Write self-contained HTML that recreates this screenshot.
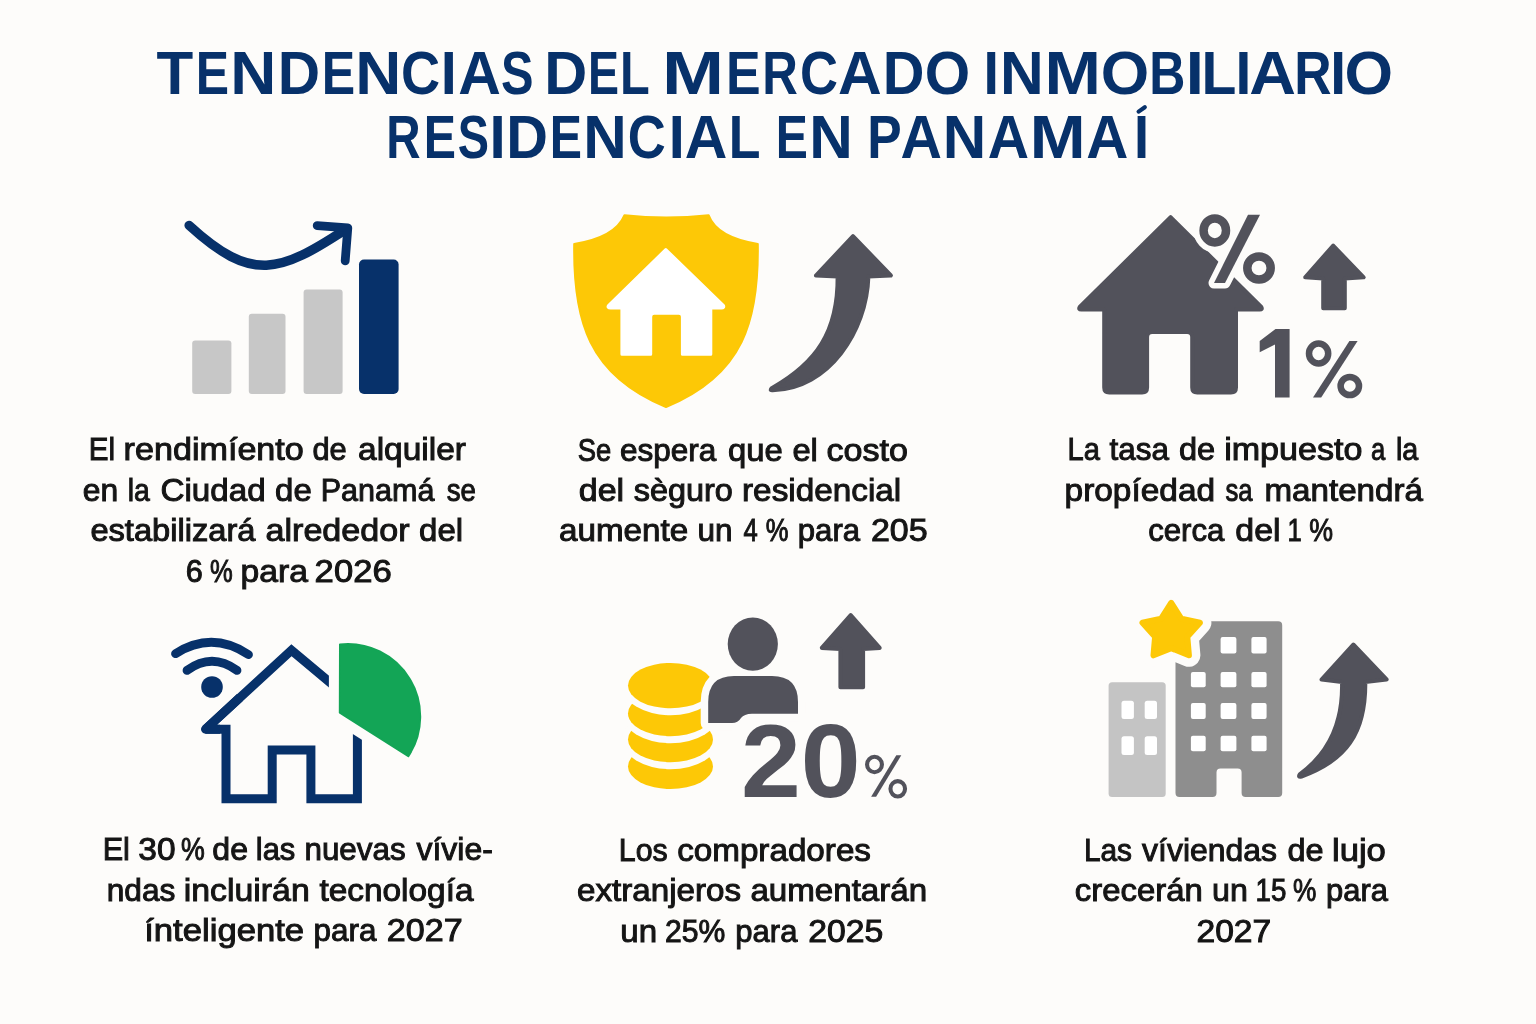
<!DOCTYPE html>
<html><head><meta charset="utf-8"><style>
html,body{margin:0;padding:0;background:#fdfcfa;}
svg{display:block;}
text{font-family:"Liberation Sans",sans-serif;}
</style></head><body>
<svg width="1536" height="1024" viewBox="0 0 1536 1024">
<rect width="1536" height="1024" fill="#fdfcfa"/>
<g opacity="0.999"><text transform="translate(156.62,93.8) scale(0.9936,1)" font-size="60.5" font-weight="bold" fill="#07316a">T</text>
<text transform="translate(195.66,93.8) scale(0.8249,1)" font-size="60.5" font-weight="bold" fill="#07316a">E</text>
<text transform="translate(230.13,93.8) scale(1.0543,1)" font-size="60.5" font-weight="bold" fill="#07316a">N</text>
<text transform="translate(277.77,93.8) scale(0.9703,1)" font-size="60.5" font-weight="bold" fill="#07316a">D</text>
<text transform="translate(321.65,93.8) scale(0.8279,1)" font-size="60.5" font-weight="bold" fill="#07316a">E</text>
<text transform="translate(355.13,93.8) scale(1.0543,1)" font-size="60.5" font-weight="bold" fill="#07316a">N</text>
<text transform="translate(400.88,93.8) scale(0.8949,1)" font-size="60.5" font-weight="bold" fill="#07316a">C</text>
<text transform="translate(440.75,93.8) scale(0.9524,1)" font-size="60.5" font-weight="bold" fill="#07316a">I</text>
<text transform="translate(458.33,93.8) scale(0.9756,1)" font-size="60.5" font-weight="bold" fill="#07316a">A</text>
<text transform="translate(501.10,93.8) scale(0.8056,1)" font-size="60.5" font-weight="bold" fill="#07316a">S</text>
<text transform="translate(544.32,93.8) scale(0.9837,1)" font-size="60.5" font-weight="bold" fill="#07316a">D</text>
<text transform="translate(587.89,93.8) scale(0.7689,1)" font-size="60.5" font-weight="bold" fill="#07316a">E</text>
<text transform="translate(620.04,93.8) scale(0.8052,1)" font-size="60.5" font-weight="bold" fill="#07316a">L</text>
<text transform="translate(662.12,93.8) scale(1.2316,1)" font-size="60.5" font-weight="bold" fill="#07316a">M</text>
<text transform="translate(726.12,93.8) scale(0.8588,1)" font-size="60.5" font-weight="bold" fill="#07316a">E</text>
<text transform="translate(762.30,93.8) scale(0.8150,1)" font-size="60.5" font-weight="bold" fill="#07316a">R</text>
<text transform="translate(799.94,93.8) scale(0.8697,1)" font-size="60.5" font-weight="bold" fill="#07316a">C</text>
<text transform="translate(838.09,93.8) scale(1.0003,1)" font-size="60.5" font-weight="bold" fill="#07316a">A</text>
<text transform="translate(882.64,93.8) scale(0.9541,1)" font-size="60.5" font-weight="bold" fill="#07316a">D</text>
<text transform="translate(924.70,93.8) scale(0.9658,1)" font-size="60.5" font-weight="bold" fill="#07316a">O</text>
<text transform="translate(983.48,93.8) scale(0.9180,1)" font-size="60.5" font-weight="bold" fill="#07316a">I</text>
<text transform="translate(1000.05,93.8) scale(1.0009,1)" font-size="60.5" font-weight="bold" fill="#07316a">N</text>
<text transform="translate(1044.47,93.8) scale(1.1205,1)" font-size="60.5" font-weight="bold" fill="#07316a">M</text>
<text transform="translate(1100.74,93.8) scale(1.0300,1)" font-size="60.5" font-weight="bold" fill="#07316a">O</text>
<text transform="translate(1149.15,93.8) scale(0.8266,1)" font-size="60.5" font-weight="bold" fill="#07316a">B</text>
<text transform="translate(1185.63,93.8) scale(1.0786,1)" font-size="60.5" font-weight="bold" fill="#07316a">I</text>
<text transform="translate(1201.38,93.8) scale(0.9437,1)" font-size="60.5" font-weight="bold" fill="#07316a">L</text>
<text transform="translate(1235.39,93.8) scale(0.9409,1)" font-size="60.5" font-weight="bold" fill="#07316a">I</text>
<text transform="translate(1249.29,93.8) scale(1.0692,1)" font-size="60.5" font-weight="bold" fill="#07316a">A</text>
<text transform="translate(1294.34,93.8) scale(0.8541,1)" font-size="60.5" font-weight="bold" fill="#07316a">R</text>
<text transform="translate(1330.29,93.8) scale(0.9409,1)" font-size="60.5" font-weight="bold" fill="#07316a">I</text>
<text transform="translate(1344.44,93.8) scale(1.0324,1)" font-size="60.5" font-weight="bold" fill="#07316a">O</text>
<text transform="translate(386.22,158.2) scale(0.7864,1)" font-size="60.5" font-weight="bold" fill="#07316a">R</text>
<text transform="translate(423.67,158.2) scale(0.7984,1)" font-size="60.5" font-weight="bold" fill="#07316a">E</text>
<text transform="translate(457.85,158.2) scale(0.7752,1)" font-size="60.5" font-weight="bold" fill="#07316a">S</text>
<text transform="translate(489.60,158.2) scale(0.9639,1)" font-size="60.5" font-weight="bold" fill="#07316a">I</text>
<text transform="translate(506.34,158.2) scale(0.9541,1)" font-size="60.5" font-weight="bold" fill="#07316a">D</text>
<text transform="translate(549.67,158.2) scale(0.7984,1)" font-size="60.5" font-weight="bold" fill="#07316a">E</text>
<text transform="translate(583.27,158.2) scale(0.9953,1)" font-size="60.5" font-weight="bold" fill="#07316a">N</text>
<text transform="translate(627.84,158.2) scale(0.8697,1)" font-size="60.5" font-weight="bold" fill="#07316a">C</text>
<text transform="translate(668.85,158.2) scale(0.9524,1)" font-size="60.5" font-weight="bold" fill="#07316a">I</text>
<text transform="translate(684.78,158.2) scale(0.9744,1)" font-size="60.5" font-weight="bold" fill="#07316a">A</text>
<text transform="translate(728.63,158.2) scale(0.8584,1)" font-size="60.5" font-weight="bold" fill="#07316a">L</text>
<text transform="translate(775.78,158.2) scale(0.7955,1)" font-size="60.5" font-weight="bold" fill="#07316a">E</text>
<text transform="translate(809.27,158.2) scale(0.9967,1)" font-size="60.5" font-weight="bold" fill="#07316a">N</text>
<text transform="translate(867.15,158.2) scale(0.8529,1)" font-size="60.5" font-weight="bold" fill="#07316a">P</text>
<text transform="translate(900.47,158.2) scale(0.9485,1)" font-size="60.5" font-weight="bold" fill="#07316a">A</text>
<text transform="translate(942.67,158.2) scale(0.9953,1)" font-size="60.5" font-weight="bold" fill="#07316a">N</text>
<text transform="translate(987.87,158.2) scale(0.9461,1)" font-size="60.5" font-weight="bold" fill="#07316a">A</text>
<text transform="translate(1029.71,158.2) scale(1.1087,1)" font-size="60.5" font-weight="bold" fill="#07316a">M</text>
<text transform="translate(1086.15,158.2) scale(0.9633,1)" font-size="60.5" font-weight="bold" fill="#07316a">A</text>
<path d="M1138.6,111.6 L1144.8,107.2" stroke="#07316a" stroke-width="4.2" stroke-linecap="round"/>
<text transform="translate(1134.08,158.2) scale(0.8950,1)" font-size="60.5" font-weight="bold" fill="#07316a">I</text>
<text transform="translate(88.85,460.00) scale(0.9240,1)" font-size="32" fill="#151515" stroke="#151515" stroke-width="1.0">El</text>
<text transform="translate(123.57,460.00) scale(1.0669,1)" font-size="32" fill="#151515" stroke="#151515" stroke-width="1.0">rendimíento</text>
<text transform="translate(312.44,460.00) scale(0.9647,1)" font-size="32" fill="#151515" stroke="#151515" stroke-width="1.0">de</text>
<text transform="translate(358.05,460.00) scale(1.0461,1)" font-size="32" fill="#151515" stroke="#151515" stroke-width="1.0">alquiler</text>
<text transform="translate(82.81,500.60) scale(0.9939,1)" font-size="32" fill="#151515" stroke="#151515" stroke-width="1.0">en</text>
<text transform="translate(127.72,500.60) scale(0.8875,1)" font-size="32" fill="#151515" stroke="#151515" stroke-width="1.0">la</text>
<text transform="translate(160.46,500.60) scale(1.0384,1)" font-size="32" fill="#151515" stroke="#151515" stroke-width="1.0">Ciudad</text>
<text transform="translate(275.07,500.60) scale(1.0294,1)" font-size="32" fill="#151515" stroke="#151515" stroke-width="1.0">de</text>
<text transform="translate(320.69,500.60) scale(0.9551,1)" font-size="32" fill="#151515" stroke="#151515" stroke-width="1.0">Panamá</text>
<text transform="translate(446.80,500.60) scale(0.8636,1)" font-size="32" fill="#151515" stroke="#151515" stroke-width="1.0">se</text>
<text transform="translate(90.38,541.25) scale(1.0204,1)" font-size="32" fill="#151515" stroke="#151515" stroke-width="1.0">estabilizará</text>
<text transform="translate(265.53,541.25) scale(1.0657,1)" font-size="32" fill="#151515" stroke="#151515" stroke-width="1.0">alrededor</text>
<text transform="translate(419.07,541.25) scale(1.0300,1)" font-size="32" fill="#151515" stroke="#151515" stroke-width="1.0">del</text>
<text transform="translate(185.64,581.60) scale(0.9563,1)" font-size="32" fill="#151515" stroke="#151515" stroke-width="1.0">6</text>
<text transform="translate(210.05,581.60) scale(0.8000,1)" font-size="32" fill="#151515" stroke="#151515" stroke-width="1.0">%</text>
<text transform="translate(240.45,581.60) scale(1.0531,1)" font-size="32" fill="#151515" stroke="#151515" stroke-width="1.0">para</text>
<text transform="translate(314.62,581.60) scale(1.0829,1)" font-size="32" fill="#151515" stroke="#151515" stroke-width="1.0">2026</text>
<text transform="translate(577.64,460.50) scale(0.8568,1)" font-size="32" fill="#151515" stroke="#151515" stroke-width="1.0">Se</text>
<text transform="translate(620.02,460.50) scale(0.9847,1)" font-size="32" fill="#151515" stroke="#151515" stroke-width="1.0">espera</text>
<text transform="translate(728.08,460.50) scale(1.0250,1)" font-size="32" fill="#151515" stroke="#151515" stroke-width="1.0">que</text>
<text transform="translate(792.38,460.50) scale(1.0227,1)" font-size="32" fill="#151515" stroke="#151515" stroke-width="1.0">el</text>
<text transform="translate(826.43,460.50) scale(1.0653,1)" font-size="32" fill="#151515" stroke="#151515" stroke-width="1.0">costo</text>
<text transform="translate(578.74,500.60) scale(1.0625,1)" font-size="32" fill="#151515" stroke="#151515" stroke-width="1.0">del</text>
<text transform="translate(633.70,500.60) scale(1.0134,1)" font-size="32" fill="#151515" stroke="#151515" stroke-width="1.0">sèguro</text>
<text transform="translate(742.02,500.60) scale(1.0409,1)" font-size="32" fill="#151515" stroke="#151515" stroke-width="1.0">residencial</text>
<text transform="translate(559.06,541.25) scale(1.0374,1)" font-size="32" fill="#151515" stroke="#151515" stroke-width="1.0">aumente</text>
<text transform="translate(697.52,541.25) scale(0.9848,1)" font-size="32" fill="#151515" stroke="#151515" stroke-width="1.0">un</text>
<text transform="translate(743.45,541.25) scale(0.8000,1)" font-size="32" fill="#151515" stroke="#151515" stroke-width="1.0">4</text>
<text transform="translate(765.70,541.25) scale(0.8000,1)" font-size="32" fill="#151515" stroke="#151515" stroke-width="1.0">%</text>
<text transform="translate(797.83,541.25) scale(0.9719,1)" font-size="32" fill="#151515" stroke="#151515" stroke-width="1.0">para</text>
<text transform="translate(870.94,541.25) scale(1.0635,1)" font-size="32" fill="#151515" stroke="#151515" stroke-width="1.0">205</text>
<text transform="translate(1067.48,460.00) scale(0.9088,1)" font-size="32" fill="#151515" stroke="#151515" stroke-width="1.0">La</text>
<text transform="translate(1109.50,460.00) scale(0.9836,1)" font-size="32" fill="#151515" stroke="#151515" stroke-width="1.0">tasa</text>
<text transform="translate(1178.98,460.00) scale(1.0176,1)" font-size="32" fill="#151515" stroke="#151515" stroke-width="1.0">de</text>
<text transform="translate(1224.17,460.00) scale(1.0646,1)" font-size="32" fill="#151515" stroke="#151515" stroke-width="1.0">impuesto</text>
<text transform="translate(1370.95,460.00) scale(0.8000,1)" font-size="32" fill="#151515" stroke="#151515" stroke-width="1.0">a</text>
<text transform="translate(1395.91,460.00) scale(0.8958,1)" font-size="32" fill="#151515" stroke="#151515" stroke-width="1.0">la</text>
<text transform="translate(1064.55,500.60) scale(1.0451,1)" font-size="32" fill="#151515" stroke="#151515" stroke-width="1.0">propíedad</text>
<text transform="translate(1225.55,500.60) scale(0.8000,1)" font-size="32" fill="#151515" stroke="#151515" stroke-width="1.0">sa</text>
<text transform="translate(1264.43,500.60) scale(1.0362,1)" font-size="32" fill="#151515" stroke="#151515" stroke-width="1.0">mantendrá</text>
<text transform="translate(1148.13,541.25) scale(0.9744,1)" font-size="32" fill="#151515" stroke="#151515" stroke-width="1.0">cerca</text>
<text transform="translate(1235.34,541.25) scale(1.0600,1)" font-size="32" fill="#151515" stroke="#151515" stroke-width="1.0">del</text>
<text transform="translate(1287.60,541.25) scale(0.8000,1)" font-size="32" fill="#151515" stroke="#151515" stroke-width="1.0">1</text>
<text transform="translate(1309.36,541.25) scale(0.8370,1)" font-size="32" fill="#151515" stroke="#151515" stroke-width="1.0">%</text>
<text transform="translate(102.69,860.30) scale(0.9560,1)" font-size="32" fill="#151515" stroke="#151515" stroke-width="1.0">El</text>
<text transform="translate(138.35,860.30) scale(1.0471,1)" font-size="32" fill="#151515" stroke="#151515" stroke-width="1.0">30</text>
<text transform="translate(180.96,860.30) scale(0.8370,1)" font-size="32" fill="#151515" stroke="#151515" stroke-width="1.0">%</text>
<text transform="translate(212.30,860.30) scale(1.0029,1)" font-size="32" fill="#151515" stroke="#151515" stroke-width="1.0">de</text>
<text transform="translate(255.77,860.30) scale(0.9667,1)" font-size="32" fill="#151515" stroke="#151515" stroke-width="1.0">las</text>
<text transform="translate(304.44,860.30) scale(0.9812,1)" font-size="32" fill="#151515" stroke="#151515" stroke-width="1.0">nuevas</text>
<text transform="translate(416.50,860.30) scale(0.9987,1)" font-size="32" fill="#151515" stroke="#151515" stroke-width="1.0">vívie-</text>
<text transform="translate(106.72,900.70) scale(0.9896,1)" font-size="32" fill="#151515" stroke="#151515" stroke-width="1.0">ndas</text>
<text transform="translate(183.79,900.70) scale(1.0569,1)" font-size="32" fill="#151515" stroke="#151515" stroke-width="1.0">incluirán</text>
<text transform="translate(319.40,900.70) scale(1.0443,1)" font-size="32" fill="#151515" stroke="#151515" stroke-width="1.0">tecnología</text>
<text transform="translate(144.13,941.25) scale(1.0841,1)" font-size="32" fill="#151515" stroke="#151515" stroke-width="1.0">ínteligente</text>
<text transform="translate(313.62,941.25) scale(0.9828,1)" font-size="32" fill="#151515" stroke="#151515" stroke-width="1.0">para</text>
<text transform="translate(386.73,941.25) scale(1.0667,1)" font-size="32" fill="#151515" stroke="#151515" stroke-width="1.0">2027</text>
<text transform="translate(618.81,860.50) scale(0.9469,1)" font-size="32" fill="#151515" stroke="#151515" stroke-width="1.0">Los</text>
<text transform="translate(677.16,860.50) scale(1.0378,1)" font-size="32" fill="#151515" stroke="#151515" stroke-width="1.0">compradores</text>
<text transform="translate(576.96,901.00) scale(1.0369,1)" font-size="32" fill="#151515" stroke="#151515" stroke-width="1.0">extranjeros</text>
<text transform="translate(750.46,901.00) scale(1.0351,1)" font-size="32" fill="#151515" stroke="#151515" stroke-width="1.0">aumentarán</text>
<text transform="translate(620.27,941.50) scale(1.0333,1)" font-size="32" fill="#151515" stroke="#151515" stroke-width="1.0">un</text>
<text transform="translate(664.96,941.50) scale(0.9413,1)" font-size="32" fill="#151515" stroke="#151515" stroke-width="1.0">25%</text>
<text transform="translate(735.33,941.50) scale(0.9703,1)" font-size="32" fill="#151515" stroke="#151515" stroke-width="1.0">para</text>
<text transform="translate(808.24,941.50) scale(1.0557,1)" font-size="32" fill="#151515" stroke="#151515" stroke-width="1.0">2025</text>
<text transform="translate(1083.93,860.50) scale(0.9327,1)" font-size="32" fill="#151515" stroke="#151515" stroke-width="1.0">Las</text>
<text transform="translate(1142.10,860.50) scale(0.9978,1)" font-size="32" fill="#151515" stroke="#151515" stroke-width="1.0">víviendas</text>
<text transform="translate(1287.49,860.50) scale(1.0147,1)" font-size="32" fill="#151515" stroke="#151515" stroke-width="1.0">de</text>
<text transform="translate(1331.93,860.50) scale(1.0830,1)" font-size="32" fill="#151515" stroke="#151515" stroke-width="1.0">lujo</text>
<text transform="translate(1074.87,901.00) scale(1.0270,1)" font-size="32" fill="#151515" stroke="#151515" stroke-width="1.0">crecerán</text>
<text transform="translate(1211.99,901.00) scale(1.0061,1)" font-size="32" fill="#151515" stroke="#151515" stroke-width="1.0">un</text>
<text transform="translate(1255.57,901.00) scale(0.8667,1)" font-size="32" fill="#151515" stroke="#151515" stroke-width="1.0">15</text>
<text transform="translate(1292.93,901.00) scale(0.8204,1)" font-size="32" fill="#151515" stroke="#151515" stroke-width="1.0">%</text>
<text transform="translate(1326.03,901.00) scale(0.9656,1)" font-size="32" fill="#151515" stroke="#151515" stroke-width="1.0">para</text>
<text transform="translate(1196.45,941.50) scale(1.0507,1)" font-size="32" fill="#151515" stroke="#151515" stroke-width="1.0">2027</text>
<!-- ICON 1: bar chart -->
<g fill="#c7c7c7">
<rect x="192.2" y="340.5" width="39.2" height="53.5" rx="3"/>
<rect x="248.8" y="313.8" width="36.7" height="80.2" rx="3"/>
<rect x="303.6" y="289.6" width="39" height="104.4" rx="3"/>
</g>
<rect x="359" y="259.5" width="39.6" height="134.5" rx="5" fill="#07316a"/>
<g fill="none" stroke="#07316a" stroke-linecap="round" stroke-linejoin="round">
<path stroke-width="9.4" d="M189.1,225.4 C252.2,283.2 279.8,272.4 345.5,229.5"/>
<path stroke-width="8.8" d="M317.2,225.6 L347.8,227.8 L345.2,260.8"/>
</g>
<!-- ICON 2: shield -->
<path fill="#fdc806" stroke="#fdc806" stroke-width="2" stroke-linejoin="round" d="M624.5,215.2 Q666,220 708.6,215.2 Q716.8,237.4 757.8,244 C759,320 744,375 666,407 C588,375 573,320 574.2,244 Q615.2,237.4 624.5,215.2 Z"/>
<path fill="#ffffff" stroke="#ffffff" stroke-width="3" stroke-linejoin="round" d="M665.8,249.5 L723.5,305.5 Q724.5,308 721.5,308 L710.8,308 L710.8,354.3 L682.4,354.3 L682.4,316.7 Q682.4,313.2 678.9,313.2 L654.2,313.2 Q650.7,313.2 650.7,316.7 L650.7,354.3 L621.9,354.3 L621.9,308 L610.5,308 Q607,308 608.5,305.5 Z"/>
<path fill="#52525b" stroke="#52525b" stroke-width="4" stroke-linejoin="round" d="M853,236.1 L890.9,275.5 L868.4,276.5 C866.9,331.1 828.6,389.3 772.7,390.2 Q768.8,390.6 772.1,387.9 C816.3,362.9 838.1,331.7 837.6,276.5 L815.9,275.5 Z"/>
<!-- ICON 3: house % -->
<path fill="#52525b" stroke="#52525b" stroke-width="4" stroke-linejoin="round" d="M1170.6,217.2 L1261.3,307 Q1262.8,309.5 1259.8,309.5 L1236,309.5 L1236,387.5 Q1236,392.5 1231,392.5 L1197.2,392.5 Q1192.2,392.5 1192.2,387.5 L1192.2,337 Q1192.2,332 1187.2,332 L1152.1,332 Q1147.1,332 1147.1,337 L1147.1,387.5 Q1147.1,392.5 1142.1,392.5 L1109.2,392.5 Q1104.2,392.5 1104.2,387.5 L1104.2,309.5 L1081.2,309.5 Q1078.2,309.5 1079.7,307 Z"/>
<g fill="none" stroke="#fdfcfa" stroke-width="20">
<ellipse cx="1214.8" cy="230.4" rx="11.2" ry="12"/>
<ellipse cx="1259" cy="268" rx="11.7" ry="11.6"/>
</g>
<path fill="#fdfcfa" stroke="#fdfcfa" stroke-width="11" stroke-linejoin="round" d="M1248,214.8 L1260,214.8 L1225,283 L1214,283 Z"/>
<g fill="none" stroke="#52525b" stroke-width="8.5">
<ellipse cx="1214.8" cy="230.4" rx="11.2" ry="12"/>
<ellipse cx="1259" cy="268" rx="11.7" ry="11.6"/>
</g>
<path fill="#52525b" d="M1248,214.8 L1260,214.8 L1225,283 L1214,283 Z"/>
<path fill="#52525b" stroke="#52525b" stroke-width="4" stroke-linejoin="round" d="M1333.2,245.6 L1363.7,277.3 L1344.8,278.4 L1344.8,308.3 L1323.2,308.3 L1323.2,278.4 L1305.2,277.3 Z"/>
<path fill="#52525b" d="M1275.5,329.1 L1289.6,329.1 L1289.6,397.5 L1275,397.5 L1275,344.5 L1259.7,352.2 L1259.7,341.1 Z"/>
<g fill="none" stroke="#52525b" stroke-width="6.5">
<ellipse cx="1318.6" cy="353.5" rx="9.6" ry="10"/>
<ellipse cx="1349.8" cy="386" rx="9.2" ry="9.1"/>
</g>
<path fill="#52525b" d="M1349.4,341 L1357.6,341 L1321.2,397.5 L1313,397.5 Z"/>
<!-- ICON 4: smart house -->
<g fill="none" stroke="#07316a" stroke-width="8.8" stroke-linecap="round">
<path d="M175.5,653.7 Q211.9,630.5 248.5,654.6"/>
<path d="M187,670.4 Q212,652.2 237,670.4"/>
</g>
<circle cx="212" cy="687" r="10.8" fill="#07316a"/>
<path fill="none" stroke="#07316a" stroke-width="9" stroke-linejoin="miter" stroke-miterlimit="1.5" d="M345,695 L291.5,650.2 L205.5,729.3 L226,729.3 L226,798.7 L272.2,798.7 L272.2,750 L310.9,750 L310.9,798.7 L357.4,798.7 L357.4,720"/>
<path fill="none" stroke="#07316a" stroke-width="9" stroke-linejoin="round" d="M240,697.4 L205.5,729.3 L220,729.3"/>
<path fill="#fdfcfa" stroke="#fdfcfa" stroke-width="22" stroke-linejoin="round" d="M340,644.4 A72.5,72.5 0 0 1 408.33,756.25 L339.8,712.7 Z"/>
<path fill="#13a556" stroke="#13a556" stroke-width="2" stroke-linejoin="round" d="M340,644.4 A72.5,72.5 0 0 1 408.33,756.25 L339.8,712.7 Z"/>
<!-- ICON 5: coins person 20% -->
<g>
<ellipse cx="670.5" cy="766.4" rx="48.5" ry="29.7" fill="#fdfcfa"/>
<ellipse cx="670.5" cy="766.4" rx="42.5" ry="22.7" fill="#fdc806"/>
<ellipse cx="670.5" cy="739.5" rx="48.5" ry="29.7" fill="#fdfcfa"/>
<ellipse cx="670.5" cy="739.5" rx="42.5" ry="22.7" fill="#fdc806"/>
<ellipse cx="670.5" cy="713.5" rx="48.5" ry="29.7" fill="#fdfcfa"/>
<ellipse cx="670.5" cy="713.5" rx="42.5" ry="22.7" fill="#fdc806"/>
<ellipse cx="670.5" cy="685.6" rx="48.5" ry="29.7" fill="#fdfcfa"/>
<ellipse cx="670.5" cy="685.6" rx="42.5" ry="22.7" fill="#fdc806"/>
</g>
<path fill="#fdfcfa" stroke="#fdfcfa" stroke-width="15" stroke-linejoin="round" d="M708.2,723 L708.2,702 Q708.2,675.9 734,675.9 L772,675.9 Q798,675.9 798,702 L798,713.8 L752,713.8 Q744,714 741,718 Q738,723 732,723 Z"/>
<path fill="#52525b" d="M708.2,723 L708.2,702 Q708.2,675.9 734,675.9 L772,675.9 Q798,675.9 798,702 L798,713.8 L752,713.8 Q744,714 741,718 Q738,723 732,723 Z"/>
<ellipse cx="752.8" cy="644.1" rx="25.1" ry="26.7" fill="#52525b"/>
<path fill="#52525b" stroke="#52525b" stroke-width="4" stroke-linejoin="round" d="M850.7,615.1 L879.7,647.9 L863.1,648.9 L863.1,687.2 L840.4,687.2 L840.4,648.9 L821.8,647.9 Z"/>
<text x="0" y="0" font-weight="bold" font-size="102" fill="#52525b" transform="translate(740.9,796.9) scale(1.055,1.011)">20</text>
<g fill="none" stroke="#52525b" stroke-width="4.1">
<ellipse cx="874.5" cy="764.5" rx="7.45" ry="7.7"/>
<ellipse cx="897.75" cy="788.8" rx="7.3" ry="7.7"/>
</g>
<path fill="#52525b" d="M896.3,755.25 L901.3,755.25 L876.1,796.8 L871.1,796.8 Z"/>
<!-- ICON 6: buildings -->
<rect x="1108.6" y="682.2" width="57.1" height="114.9" rx="3.5" fill="#c4c4c4"/>
<g fill="#ffffff">
<rect x="1121.5" y="700.7" width="12.4" height="18.4" rx="2.5"/>
<rect x="1144.7" y="700.7" width="12.3" height="18.4" rx="2.5"/>
<rect x="1121.5" y="736.2" width="12.4" height="18.8" rx="2.5"/>
<rect x="1144.7" y="736.2" width="12.3" height="18.8" rx="2.5"/>
</g>
<path fill="#8e8e8e" d="M1179.5,621.3 L1278.2,621.3 Q1282.2,621.3 1282.2,625.3 L1282.2,793.1 Q1282.2,797.1 1278.2,797.1 L1245.6,797.1 Q1241.6,797.1 1241.6,793.1 L1241.6,772.4 Q1241.6,768.4 1237.6,768.4 L1220.5,768.4 Q1216.5,768.4 1216.5,772.4 L1216.5,793.1 Q1216.5,797.1 1212.5,797.1 L1179.5,797.1 Q1175.5,797.1 1175.5,793.1 L1175.5,625.3 Q1175.5,621.3 1179.5,621.3 Z"/>
<g fill="#ffffff">
<rect x="1220.6" y="637.1" width="15.8" height="16.4" rx="2"/>
<rect x="1251.4" y="637.1" width="15.2" height="16.4" rx="2"/>
<rect x="1190.9" y="672" width="14.8" height="15.3" rx="2"/>
<rect x="1220.6" y="672" width="15.8" height="15.3" rx="2"/>
<rect x="1251.4" y="672" width="15.2" height="15.3" rx="2"/>
<rect x="1190.9" y="703.1" width="14.8" height="16" rx="2"/>
<rect x="1220.6" y="703.1" width="15.8" height="16" rx="2"/>
<rect x="1251.4" y="703.1" width="15.2" height="16" rx="2"/>
<rect x="1190.9" y="735.7" width="14.8" height="15.6" rx="2"/>
<rect x="1220.6" y="735.7" width="15.8" height="15.6" rx="2"/>
<rect x="1251.4" y="735.7" width="15.2" height="15.6" rx="2"/>
</g>
<path fill="#fdfcfa" stroke="#fdfcfa" stroke-width="23" stroke-linejoin="round" d="M1171.2,602.8 L1181.2,618.6 L1199.9,622.8 L1187.3,636.8 L1188.9,655.3 L1171.2,648.1 L1153.5,655.3 L1155.1,636.8 L1142.5,622.8 L1161.2,618.6 Z"/>
<path fill="#fdc806" stroke="#fdc806" stroke-width="6" stroke-linejoin="round" d="M1171.2,602.8 L1181.2,618.6 L1199.9,622.8 L1187.3,636.8 L1188.9,655.3 L1171.2,648.1 L1153.5,655.3 L1155.1,636.8 L1142.5,622.8 L1161.2,618.6 Z"/>
<path fill="#52525b" stroke="#52525b" stroke-width="4" stroke-linejoin="round" d="M1353.3,644.5 L1386.6,679.5 L1365.3,681.9 C1366,734.2 1345.2,760.8 1301.5,776.6 Q1297.5,777.5 1300,774 C1330.6,751.8 1343,719.6 1342,681.9 L1321.5,679.5 Z"/>
</g>
</svg></body></html>
